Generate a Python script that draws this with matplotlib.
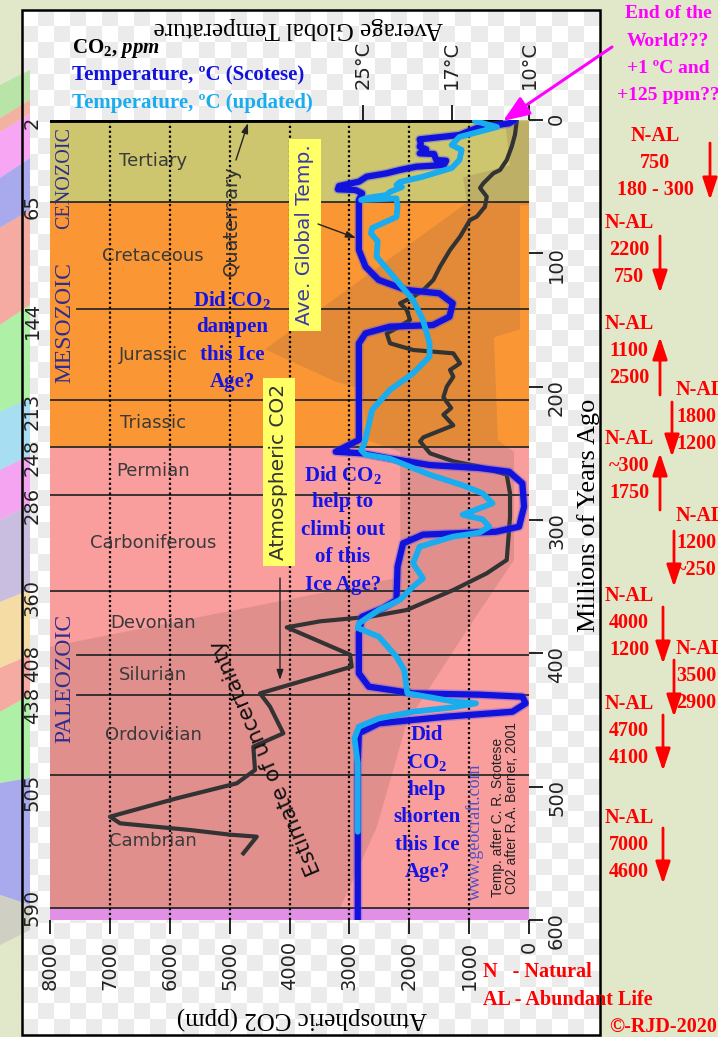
import numpy as np
import matplotlib.pyplot as plt
from matplotlib.patches import Polygon, Rectangle
from matplotlib.colors import ListedColormap

plt.rcParams['font.family'] = ['DejaVu Sans']
plt.rcParams['mathtext.fontset'] = 'custom'
plt.rcParams['mathtext.rm'] = 'Liberation Serif:bold'
plt.rcParams['mathtext.it'] = 'Liberation Serif:italic:bold'
plt.rcParams['mathtext.bf'] = 'Liberation Serif:bold'
plt.rcParams['mathtext.default'] = 'rm'

SERIF = ['Liberation Serif', 'DejaVu Serif']
SANS = ['DejaVu Sans']
W, H = 718, 1037

# ---------------- data ----------------
# atmospheric CO2 (Berner), age in Ma, ppm
co2_age = [0.75, 11, 20, 30, 37.5, 40, 47.5, 51, 57.5, 65, 72.5, 75, 87.5, 97.5, 110, 120,
           127.5, 132.5, 137.5, 142.5, 150, 157.5, 160, 167.5, 172.5, 175, 182.5, 187.5,
           192.5, 200, 208, 216, 221, 229, 238, 241, 250, 256, 260, 266, 280, 297.5, 315,
           330, 340, 352.5, 360, 367.5, 372.5, 376, 380.5, 401, 410, 430, 440, 460, 470,
           487.5, 497.5, 508.75, 522.5, 527.5, 532.5, 536, 537.5, 550]
co2_ppm = [205, 234, 289, 372, 484, 596, 763, 818, 706, 735, 873, 985, 1152, 1319, 1486, 1598,
           1765, 1932, 2154, 2042, 1987, 2266, 2376, 2321, 1932, 1264, 1152, 1319,
           1264, 1374, 1430, 1300, 1430, 1264, 1765, 1820, 1653, 1264, 818, 372, 317, 317, 346,
           372, 706, 1264, 1653, 2042, 2655, 3490, 4046, 2989, 2961, 4492, 4325, 4103, 4604,
           4576, 4881, 5883, 6997, 6830, 5661, 4993, 4547, 4771]

# global temperature after Scotese, deg C
scotese_age = [0, 2.5, 6.25, 11.25, 14.5, 17.5, 20, 22, 25, 25.5, 30, 30.5, 33.75, 35, 37.5,
               40, 42.5, 46.25, 49.5, 52, 52.5, 55, 60, 75, 97.5, 110, 120, 127.5, 130, 137.5,
               147.5, 153.8, 155, 160, 167.5, 217.5, 240, 245, 248.8, 250, 253.8, 258.8, 261,
               263.8, 272.5, 290, 305, 308.8, 311, 317.5, 335, 360, 366, 372.5, 385, 415, 425,
               430, 431, 432.5, 437.5, 443.8, 447.5, 452.5, 460, 482.5, 600]
scotese_temp = [11.3, 11.8, 14.8, 16.3, 19.9, 19.8, 19.9, 19.3, 19.9, 18.6, 18.4, 17.5, 17.7,
                20.2, 21.7, 22.9, 24.7, 25.4, 27.2, 27.3, 25.7, 25.1, 25.4, 25.4, 25.4, 24.8,
                23.6, 21.1, 18.1, 16.9, 17.2, 18.7, 22.6, 24.8, 25.4, 25.4, 25.4, 26.6, 27.5,
                25.1, 22.6, 19.0, 14.5, 11.8, 10.6, 10.45, 10.9, 13.0, 19.6, 21.4, 21.9, 22.0,
                23.2, 25.1, 25.4, 25.4, 24.5, 20.5, 14.5, 10.6, 10.3, 11.5, 17.5, 23.6, 25.4,
                25.5, 25.5]

# updated temperature curve, deg C
upd_age = [0.75, 5.25, 12.75, 18.75, 22.5, 30, 36, 42.75, 46.5, 48.75, 50.25, 54, 56.25, 58.5,
           60, 58.8, 65.25, 72.75, 81, 85, 91, 102.5, 120, 135, 150, 167.5, 177.5, 190, 202.5,
           217.5, 242.5, 247.5, 251, 254, 260, 266, 274, 280, 287.5, 296, 299.5, 305, 309.5,
           312.5, 320, 332.5, 343.8, 350, 360, 367.5, 377.5, 381, 387.5, 402.5, 412.5, 425,
           430, 436, 437.5, 440.5, 443.8, 448.8, 455, 463.8, 482.5, 533.8]
upd_temp = [14.9, 12.9, 16.3, 17.0, 16.1, 16.3, 17.0, 19.7, 21.7, 22.0, 21.5, 22.6, 22.9, 24.7,
            25.2, 22.0, 21.9, 22.0, 24.2, 24.3, 23.7, 23.8, 22.0, 20.5, 19.6, 19.0, 19.0, 20.5,
            22.6, 24.2, 24.9, 25.2, 24.8, 22.6, 20.8, 19.0, 16.0, 14.2, 13.3, 16.0, 14.2, 13.6,
            14.5, 16.9, 19.9, 20.5, 19.6, 20.5, 21.7, 23.6, 25.4, 25.5, 23.6, 22.0, 21.3, 21.1,
            21.0, 16.9, 14.8, 16.9, 20.5, 23.6, 25.4, 25.8, 25.5, 25.5]

# CO2 uncertainty envelope (ppm, Ma)
unc_co2 = [400, 0, 0, 150, 150, 585, 520, 250, 250, 985, 2040, 2540, 3040, 3160, 8000, 8000,
           2150, 2150, 2700, 2790, 3240, 4410, 1035, 1100, 320]
unc_age = [1, 1, 64, 64, 157, 163, 240, 249, 330, 379, 452, 530, 580, 591, 591, 395, 343, 249,
           240, 202, 196, 172, 62, 43, 34]

# geologic time scale as drawn on the chart
period_bounds = [0, 61.5, 141.8, 210, 245, 281, 353, 401, 431, 491, 591, 600]
period_names = ['Tertiary', 'Cretaceous', 'Jurassic', 'Triassic', 'Permian', 'Carboniferous',
                'Devonian', 'Silurian', 'Ordovician', 'Cambrian']
band_colors = ['#cdc66e', '#fa9734', '#fa9734', '#fa9734', '#f99d9d', '#f99d9d', '#f99d9d',
               '#f99d9d', '#f99d9d', '#f99d9d', '#e28fe6']
bound_labels = ['2', '65', '144', '213', '248', '286', '360', '408', '438', '505', '590']
bound_label_pos = [3, 61.5, 141.8, 210, 245, 281, 350, 399, 431, 496, 582]

co2_ticks = [8000, 7000, 6000, 5000, 4000, 3000, 2000, 1000, 0]
age_ticks = [0, 100, 200, 300, 400, 500, 600]
temp_ticks = [25, 17, 10]
temp_labels = ['25°C', '17°C', '10°C']

# right-hand notes
note_text = [['N-AL', '750', '180 - 300'], ['N-AL', '2200', '750'], ['N-AL', '1100', '2500'],
             ['N-AL', '1800', '1200'], ['N-AL', '~300', '1750'], ['N-AL', '1200', '~250'],
             ['N-AL', '4000', '1200'], ['N-AL', '3500', '2900'], ['N-AL', '4700', '4100'],
             ['N-AL', '7000', '4600']]
note_x = [655, 629, 629, 676, 629, 676, 629, 676, 629, 629]
note_y = [136, 223, 324, 390, 439, 516, 596, 649, 704, 818]
note_ha = ['center', 'center', 'center', 'left', 'center', 'left', 'center', 'left', 'center',
           'center']
arrow_x = [710, 660, 660, 672, 660, 674, 663, 674, 663, 663]
arrow_from = [143, 236, 395, 402, 510, 531, 607, 660, 715, 828]
arrow_to = [200, 293, 337, 457, 453, 587, 664, 717, 771, 884]

# ---------------- figure ----------------
fig = plt.figure(figsize=(W / 100, H / 100), dpi=100, facecolor='#e1e7c9')

# background: colour fan on the left and the checkered panel
bg = fig.add_axes([0, 0, 1, 1])
fan_edges = [(85, 70), (118, 100), (132, 114), (178, 158), (228, 210), (325, 305), (412, 398),
             (470, 455), (520, 505), (602, 590), (668, 655), (712, 695), (783, 778),
             (895, 905), (945, 930)]
fan_cols = ['#b8e4a8', '#f2b2a2', '#f6a6f2', '#a9a9ee', '#f5aaa2', '#aef0a6', '#a8def2',
            '#f5a4f2', '#c9bde0', '#f5dca4', '#f5aaa2', '#aef0a6', '#a9a9ee', '#cfcfc4']
for (a0, a1), (b0, b1), c in zip(fan_edges[:-1], fan_edges[1:], fan_cols):
    bg.add_patch(Polygon([(0, a0), (30, a1), (30, b1), (0, b0)], closed=True, fc=c, ec='none'))
chk = np.add.outer(np.arange(64), np.arange(36)) % 2
bg.imshow(chk, cmap=ListedColormap(['#ffffff', '#ebebeb']), extent=(22, 600, 1035, 10),
          interpolation='nearest', aspect='auto')
bg.add_patch(Rectangle((22, 10), 578, 1025, fill=False, ec='k', lw=1.8))
bg.set_xlim(0, W)
bg.set_ylim(H, 0)
bg.axis('off')

# main chart
ax = fig.add_axes([50 / W, 1 - 920 / H, 479 / W, 800 / H])
ax.set_xlim(8000, 0)
ax.set_ylim(600, 0)

for top, bot, c in zip(period_bounds[:-1], period_bounds[1:], band_colors):
    ax.axhspan(top, bot, color=c, lw=0, zorder=0)
ax.add_patch(Polygon(np.column_stack([unc_co2, unc_age]), closed=True, fc='#7d5448',
                     alpha=0.19, ec='none', zorder=1))
for b in period_bounds[1:-1]:
    xmin = 0.056 if b in (141.8, 401, 431) else 0
    ax.axhline(b, xmin=xmin, color='#2a2a2a', lw=1.3, zorder=2)
ax.axhline(0, xmax=0.94, color='k', lw=3.5, zorder=2)
for c in co2_ticks[1:-1]:
    ax.axvline(c, color='k', ls=(0, (1, 1.2)), lw=1.6, zorder=2)

for name, top, bot in zip(period_names, period_bounds[:-1], period_bounds[1:]):
    ax.text(6280, (top + bot) / 2, name, ha='center', va='center', fontsize=13,
            color='#3a3a3a', zorder=3)

ax.plot(co2_ppm, co2_age, color='#333333', lw=3, zorder=4, solid_joinstyle='round')

ax.set_xticks(co2_ticks)
ax.tick_params(axis='x', bottom=True, top=False, length=10, width=1.2, pad=5,
               labelrotation=90, labelsize=14, labelcolor='#222')
ax.set_yticks(bound_label_pos, bound_labels)
ax.tick_params(axis='y', left=True, right=False, length=0, pad=6, labelrotation=90,
               labelsize=14, labelcolor='#222')

ax_r = ax.twinx()
ax_r.set_ylim(600, 0)
ax_r.set_yticks(age_ticks)
ax_r.tick_params(axis='y', right=True, length=10, width=1.2, pad=3, labelrotation=90,
                 labelsize=14, labelcolor='#222')

ax_t = ax.twiny()
ax_t.set_xlim(53.36, 10.09)
ax_t.plot(scotese_temp, scotese_age, color='#4b4bf5', lw=6.5, alpha=0.35,
          solid_joinstyle='round', solid_capstyle='round')
ax_t.plot(scotese_temp, scotese_age, color='#1212dd', lw=4.5,
          solid_joinstyle='round', solid_capstyle='round')
ax_t.plot(upd_temp, upd_age, color='#19acee', lw=4.2,
          solid_joinstyle='round', solid_capstyle='round')
ax_t.set_xticks(temp_ticks, temp_labels)
ax_t.tick_params(axis='x', top=True, length=11, width=1.2, pad=11, labelrotation=90,
                 labelsize=14, labelcolor='#222')

for a in (ax, ax_r, ax_t):
    for s in a.spines.values():
        s.set_visible(False)

# ---------------- text and arrows in pixel coordinates ----------------
ov = fig.add_axes([0, 0, 1, 1])
ov.set_xlim(0, W)
ov.set_ylim(H, 0)
ov.axis('off')


def stack(x, y0, strings, pitch, **kw):
    for i, s in enumerate(strings):
        ov.text(x, y0 + i * pitch, s, va='center', **kw)


def arrow(x0, y0, x1, y1, color, lw, hl, hw, ms):
    ov.annotate('', xy=(x1, y1), xytext=(x0, y0),
                arrowprops=dict(arrowstyle=f'-|>,head_length={hl},head_width={hw}',
                                color=color, lw=lw, mutation_scale=ms,
                                shrinkA=0, shrinkB=0))


ov.text(298, 28, 'Average Global Temperature', rotation=180, family=SERIF, fontsize=18,
        ha='center', va='center')
ov.text(302, 1018, 'Atmospheric CO2 (ppm)', rotation=180, family=SERIF, fontsize=18,
        ha='center', va='center')
ov.text(589, 515, 'Millions of Years Ago', rotation=90, family=SERIF, fontsize=19,
        ha='center', va='center')

ov.text(72, 48, 'CO$_2$, $\\mathit{ppm}$', family=SERIF, fontsize=15, fontweight='bold',
        va='center')
ov.text(72, 75, 'Temperature, ºC (Scotese)', family=SERIF, fontsize=15, fontweight='bold',
        color='#1212dd', va='center')
ov.text(72, 103, 'Temperature, ºC (updated)', family=SERIF, fontsize=15, fontweight='bold',
        color='#19acee', va='center')

ov.text(65, 178, 'CENOZOIC', rotation=90, family=SERIF, fontsize=14.5, color='#2e2e8c',
        ha='center', va='center')
ov.text(65, 323, 'MESOZOIC', rotation=90, family=SERIF, fontsize=17, color='#2e2e8c',
        ha='center', va='center')
ov.text(65, 678, 'PALEOZOIC', rotation=90, family=SERIF, fontsize=17, color='#2e2e8c',
        ha='center', va='center')

ov.text(231, 221, 'Quaternary', rotation=90, family=SANS, fontsize=14, color='#333',
        ha='center', va='center')
arrow(236, 160, 248, 123, '#222', 1, 0.6, 0.2, 10)
ov.text(305, 235, 'Ave. Global Temp.', rotation=90, family=SANS, fontsize=14.5,
        color='#3c3ca8', ha='center', va='center',
        bbox=dict(boxstyle='square,pad=0.3', fc='#ffff66', ec='none'))
arrow(318, 224, 356, 238, '#222', 1, 0.6, 0.2, 10)
ov.text(279, 472, 'Atmospheric CO2', rotation=90, family=SANS, fontsize=14.5, color='#333',
        ha='center', va='center',
        bbox=dict(boxstyle='square,pad=0.3', fc='#ffff66', ec='none'))
arrow(280, 578, 280, 680, '#222', 1, 0.6, 0.2, 10)
ov.text(266, 757, 'Estimate of uncertainty', rotation=113, family=SANS, fontsize=15.5,
        color='#111', ha='center', va='center')

qkw = dict(family=SERIF, fontsize=15, fontweight='bold', color='#1414e6', ha='center')
stack(232, 300, ['Did CO$_2$', 'dampen', 'this Ice', 'Age?'], 27.3, **qkw)
stack(343, 475, ['Did CO$_2$', 'help to', 'climb out', 'of this', 'Ice Age?'], 27.5, **qkw)
stack(427, 735, ['Did', 'CO$_2$', 'help', 'shorten', 'this Ice', 'Age?'], 27.4, **qkw)

ov.text(475, 832, 'www.geocraft.com', rotation=90, family=SERIF, fontsize=13,
        color='#5050c8', ha='center', va='center')
ov.text(498, 817, 'Temp. after C. R. Scotese', rotation=90, family=['Liberation Sans'],
        fontsize=10, color='#222', ha='center', va='center')
ov.text(512, 808, 'C02 after R.A. Berner, 2001', rotation=90, family=['Liberation Sans'],
        fontsize=10, color='#222', ha='center', va='center')

# right panel
stack(668, 14, ['End of the', 'World???', '+1 ºC and', '+125 ppm??'], 27.2,
      family=SERIF, fontsize=14, fontweight='bold', color='#ff00ff', ha='center')
arrow(612, 47, 503, 121, '#ff00ff', 2.2, 0.9, 0.35, 18)

rkw = dict(family=SERIF, fontsize=14.5, fontweight='bold', color='#ff0000')
for txt, x, y, ha in zip(note_text, note_x, note_y, note_ha):
    stack(x, y, txt, 27, ha=ha, **rkw)
for x, y0, y1 in zip(arrow_x, arrow_from, arrow_to):
    arrow(x, y0, x, y1, '#ff0000', 2, 0.9, 0.3, 15)

ov.text(483, 972, 'N   - Natural', va='center', **rkw)
ov.text(483, 1000, 'AL - Abundant Life', va='center', **rkw)
ov.text(663, 1027, '©-RJD-2020', ha='center', va='center', **rkw)

fig.savefig('out.png', dpi=100, facecolor=fig.get_facecolor())
